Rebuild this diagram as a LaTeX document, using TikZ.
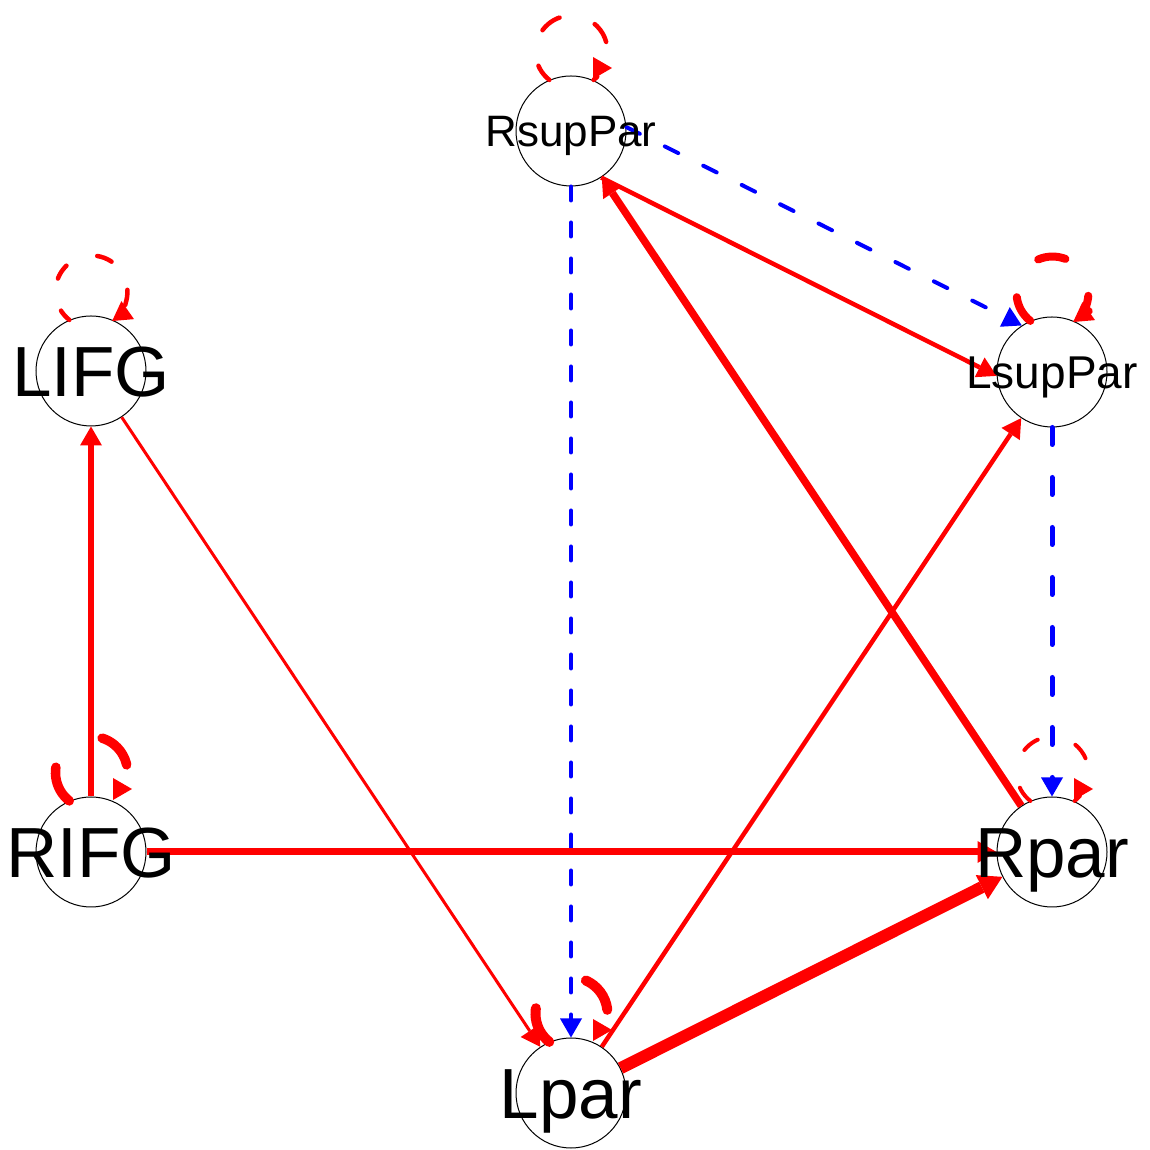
\documentclass[tikz,border=0pt]{standalone}
\usepackage{fontspec}
\setmainfont{Liberation Sans}
\usetikzlibrary{arrows.meta,calc}
\begin{document}
\begin{tikzpicture}[x=1pt,y=1pt,
  vertex/.style={circle,draw=black,line width=1pt,minimum size=110pt,inner sep=0pt,fill=white},
  biglbl/.style={inner sep=0pt,text depth=0pt,font=\fontsize{71}{71}\selectfont,text height=50.8pt},
  posedge/.style={draw=red},
  negedge/.style={draw=blue,line cap=round},
  arrowtip/.style={-{Triangle[length=19pt,width=22pt,line width=0pt]}},
  bigarrowtip/.style={-{Triangle[length=23pt,width=27pt,line width=0pt]}},
  selfloop/.style={draw=red,line cap=round},
]
\useasboundingbox (0,0) rectangle (1149,1150);

% nodes (circles)
\node[vertex] (RsupPar) at (571,1019) {};
\node[vertex] (LsupPar) at (1052,778) {};
\node[vertex] (LIFG) at (91,779) {};
\node[vertex] (RIFG) at (91,298) {};
\node[vertex] (Rpar) at (1052,298) {};
\node[vertex] (Lpar) at (571,57) {};

% straight edges
\draw[negedge,line width=4pt,arrowtip,dash pattern=on 14pt off 22pt] (RsupPar) -- (Lpar);
\draw[negedge,line width=5pt,arrowtip,dash pattern=on 17pt off 33pt] (LsupPar) -- (Rpar);
\draw[negedge,line width=4pt,arrowtip,dash pattern=on 15pt off 28pt] (RsupPar.4) -- (LsupPar.123);
\draw[posedge,line width=4.5pt,arrowtip] (RsupPar.-57) -- (LsupPar.184);
\draw[posedge,line width=7.5pt,arrowtip] (Rpar) -- (RsupPar);
\draw[posedge,line width=4.5pt,arrowtip] (Lpar) -- (LsupPar);
\draw[posedge,line width=12pt,bigarrowtip] (Lpar) -- (Rpar);
\draw[posedge,line width=7pt,arrowtip] (RIFG) -- (Rpar);
\draw[posedge,line width=6.5pt,arrowtip] (RIFG) -- (LIFG);
\draw[posedge,line width=3pt,arrowtip] (LIFG) -- (Lpar);

% self loops
\draw[selfloop,line width=4.5pt,dash pattern=on 21.5pt off 37.5pt,dash phase=3.5pt]
  (RsupPar.113) arc[start angle=232,end angle=-52,radius=36pt];
\fill[red] ($(RsupPar)+(22,52)$) -- ++(19,11) -- ++(-19,11) -- cycle;

\draw[selfloop,line width=4.5pt,dash pattern=on 15.5pt off 33.5pt,dash phase=3pt,arrowtip]
  (LIFG.113) arc[start angle=232,end angle=-55,radius=36pt];

\draw[selfloop,line width=8pt,dash pattern=on 28pt off 46.5pt,arrowtip]
  (LsupPar.113) arc[start angle=232,end angle=-55,radius=36pt];

\draw[selfloop,line width=9.5pt,dash pattern=on 38pt off 62pt]
  (RIFG.113) arc[start angle=232,end angle=-52,radius=36pt];
\fill[red] ($(RIFG)+(22,52)$) -- ++(19,11) -- ++(-19,11) -- cycle;

\draw[selfloop,line width=4pt,dash pattern=on 17pt off 40pt]
  (Rpar.113) arc[start angle=232,end angle=-52,radius=36pt];
\fill[red] ($(Rpar)+(22,52)$) -- ++(19,11) -- ++(-19,11) -- cycle;

\draw[selfloop,line width=10pt,dash pattern=on 38pt off 66pt]
  (Lpar.113) arc[start angle=232,end angle=-52,radius=36pt];
\fill[red] ($(Lpar)+(22,52)$) -- ++(19,11) -- ++(-19,11) -- cycle;

% labels
\node[inner sep=0pt,text depth=0pt,font=\fontsize{44}{44}\selectfont,text height=31.5pt] (RsupPart) at (RsupPar) {RsupPar};
\node[inner sep=0pt,text depth=0pt,font=\fontsize{46}{46}\selectfont,text height=32.9pt] (LsupPart) at (LsupPar) {LsupPar};
\node[biglbl] (LIFGt) at (LIFG) {LIFG};
\node[biglbl] (RIFGt) at (RIFG) {RIFG};
\node[biglbl] (Rpart) at (Rpar) {Rpar};
\node[biglbl] (Lpart) at (Lpar) {Lpar};
\end{tikzpicture}
\end{document}
